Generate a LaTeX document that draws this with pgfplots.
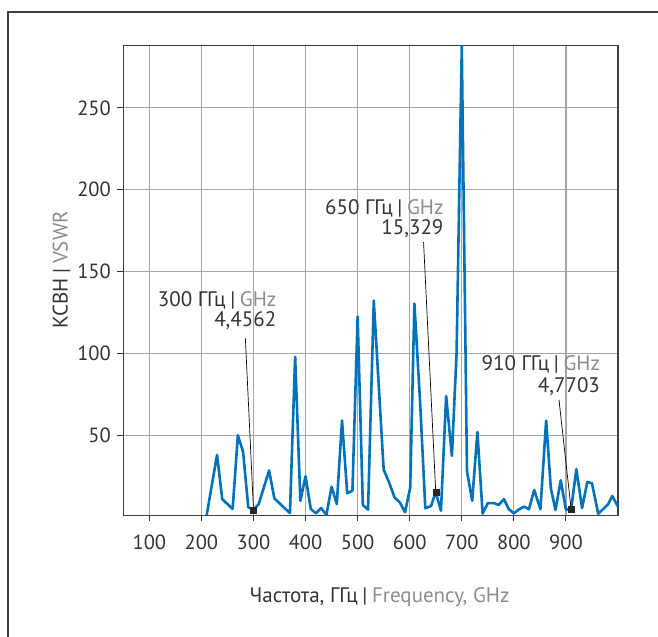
\documentclass[border=0pt]{standalone}
\usepackage{fontspec}
\setmainfont{PT Sans}
\usepackage{pgfplots}
\pgfplotsset{compat=1.18}
\definecolor{vblue}{HTML}{0072BC}
\definecolor{gridgray}{HTML}{A6A6A6}
\definecolor{txt}{HTML}{333333}
\definecolor{lgray}{HTML}{8C8C8C}
\definecolor{axgray}{HTML}{404040}
\newcommand{\sep}{\hspace{0.22em}|\hspace{0.22em}}
\begin{document}
\begin{tikzpicture}[x=1bp,y=1bp,font=\fontsize{21bp}{25bp}\selectfont]
\path[use as bounding box] (0,0) rectangle (658,637);
\draw[axgray, line width=1.5bp] (8,0) -- (8,625) -- (658,625);
\begin{axis}[
  at={(123.3bp,121.5bp)}, anchor=south west,
  scale only axis, width=494.7bp, height=469.8bp,
  xmin=50, xmax=1000, ymin=1, ymax=288,
  xtick={100,200,...,900}, ytick={50,100,...,250},
  grid=major, major grid style={gridgray, line width=1.2bp},
  axis line style={axgray, line width=1.5bp},
  tick style={txt, line width=1bp}, tick align=outside, major tick length=6bp,
  tick pos=left,
  ticklabel style={txt, font=\fontsize{20.5bp}{24bp}\selectfont}, /pgf/number format/assume math mode=true,
  xticklabel style={yshift=-10bp},
  yticklabel style={xshift=-3bp},
  xlabel={\color{txt}Частота, ГГц\sep\color{lgray}Frequency, GHz},
  xlabel style={at={(axis description cs:0.518,-0.1745)}, anchor=center},
]
\addplot[vblue, line width=2.6bp, line join=round] coordinates {
(210,1) (230,38) (240,11) (260,5) (270,50) (280,40) (290,6) (300,4.4562)
(310,8) (330,28.5) (340,11.5) (357,6.3) (370,2.5) (380,98) (390,10) (400,25)
(410,5) (420,2.3) (430,5.5) (440,1.3) (450,18.6) (460,8) (470,59) (480,14.6)
(490,16.2) (500,122.5) (510,7.4) (520,4.6) (531,132.3) (550,29) (560,21.5)
(571,12) (581,9) (591,3) (601,18) (609,130.5) (620,70) (630,5.4) (641,6.8)
(650,15.329) (660,3.9) (670,74) (681,37.4) (690,100) (700,288) (710,28)
(720,10) (730,52) (740,2.2) (750,8.6) (762,8.5) (771,7.5) (781,11) (790,5)
(800,2.3) (810,4.8) (820,6.4) (829,4.8) (839,16.6) (851,4.8) (862,59)
(871,17.6) (880,4.4) (890,22.5) (900,4.6) (910,4.7703) (920,29.3) (931,5.5)
(941,21.4) (950,20.7) (962,2.1) (973,5.4) (981,7.8) (989,12.9) (1000,6.4)
};
\addplot[only marks, mark=square*, mark size=3bp, color=black!85] coordinates {
(300,4.4562) (650,15.329) (910,4.7703)
};
\draw[black, line width=0.7bp] (axis cs:284.4,109.3) -- (axis cs:300,4.4562);
\draw[black, line width=0.7bp] (axis cs:626.6,168) -- (axis cs:650,15.329);
\draw[black, line width=0.7bp] (axis cs:886.7,71.6) -- (axis cs:910,4.7703);
\node[anchor=base east, inner sep=0, txt] at (axis cs:344.1,128.6) {300 ГГц\sep\textcolor{lgray}{GHz}};
\node[anchor=base east, inner sep=0, txt] at (axis cs:344.1,116.4) {4,4562};
\node[anchor=base east, inner sep=0, txt] at (axis cs:665.1,184.7) {650 ГГц\sep\textcolor{lgray}{GHz}};
\node[anchor=base east, inner sep=0, txt] at (axis cs:665.1,172.5) {15,329};
\node[anchor=base east, inner sep=0, txt] at (axis cs:965.7,89.3) {910 ГГц\sep\textcolor{lgray}{GHz}};
\node[anchor=base east, inner sep=0, txt] at (axis cs:965.7,76.1) {4,7703};
\end{axis}
\node[rotate=90, anchor=center, inner sep=0, txt] at (61.5,367) {КСВН\sep\textcolor{lgray}{VSWR}};
\end{tikzpicture}
\end{document}
